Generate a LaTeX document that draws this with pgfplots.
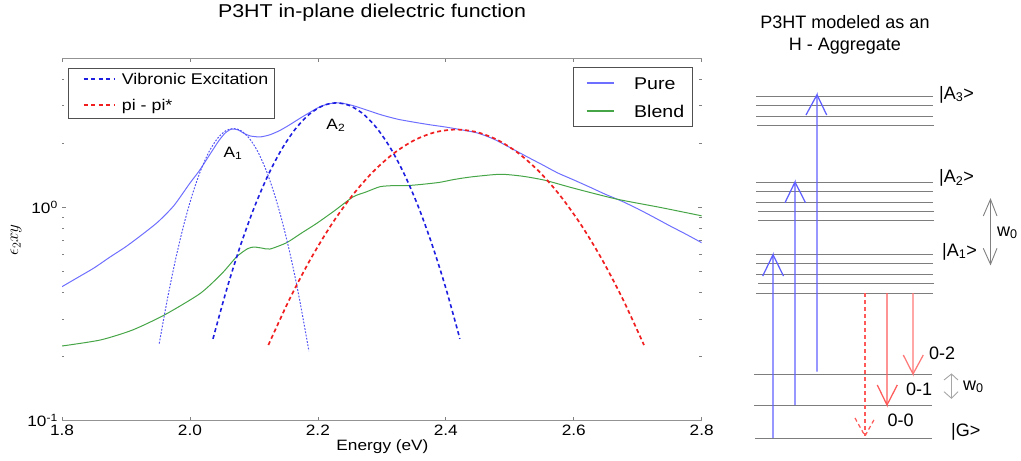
\documentclass[border=0pt]{standalone}
\usepackage{fontspec}
\setmainfont{Liberation Sans}
\newfontfamily\lsw[FakeStretch=1.15]{Liberation Sans}
\usepackage{pgfplots}
\pgfplotsset{compat=1.18}
\definecolor{pureblue}{RGB}{110,110,255}
\definecolor{blendgreen}{RGB}{70,165,70}
\definecolor{vibblue}{RGB}{30,30,225}
\definecolor{vibblueA}{RGB}{85,85,245}
\definecolor{pired}{RGB}{240,30,30}
\definecolor{lvlgray}{RGB}{125,125,125}
\definecolor{arrblue}{RGB}{95,95,255}
\definecolor{arrred}{RGB}{255,90,90}
\definecolor{arrredL}{RGB}{255,120,120}
\definecolor{framegray}{RGB}{80,80,80}
\newcommand{\fTick}{\lsw\fontsize{15bp}{18bp}\selectfont}
\newcommand{\fR}{\fontsize{18bp}{21bp}\selectfont}
\begin{document}
\begin{tikzpicture}
\path[use as bounding box] (0bp,0bp) rectangle (1021bp,-461bp);
% ---------------- main axis
\begin{axis}[at={(62bp,-420.7bp)}, anchor=south west,
  scale only axis, width=639.7bp, height=362.4bp,
  xmin=1.8, xmax=2.8, ymode=log, ymin=0.1, ymax=5,
  separate axis lines,
  x axis line style={draw=gray!85, line width=0.9bp},
  y axis line style={draw=none},
  xtick={1.8,2.0,2.2,2.4,2.6,2.8},
  xticklabels={1.8,2.0,2.2,2.4,2.6,2.8},
  ytick={0.1,1},
  yticklabels={10\textsuperscript{-1},10\textsuperscript{0}},
  minor ytick={0.2,0.3,0.4,0.5,0.6,0.7,0.8,0.9,2,3,4,5},
  major tick style={draw=gray, line width=0.7bp},
  minor tick style={draw=gray, line width=0.6bp},
  major tick length=4bp, minor tick length=2.5bp,
  tick label style={font=\fTick, text=black},
  xticklabel style={anchor=north, inner sep=0pt, yshift=-4.3bp},
  yticklabel style={anchor=east, inner sep=0pt, xshift=-4bp},
]
\addplot[draw=pureblue, color=pureblue, line width=1bp, smooth, tension=0.4] coordinates {
(1.800,0.425) (1.825,0.47) (1.850,0.52) (1.875,0.585) (1.900,0.655) (1.925,0.745)
(1.950,0.855) (1.975,1.02) (2.000,1.30) (2.015,1.49) (2.030,1.75) (2.045,2.05)
(2.055,2.23) (2.065,2.33) (2.075,2.31) (2.085,2.22) (2.095,2.16) (2.110,2.14)
(2.125,2.19) (2.140,2.29) (2.155,2.43) (2.175,2.65) (2.200,2.93) (2.215,3.05)
(2.228,3.09) (2.240,3.07) (2.255,3.00) (2.275,2.87) (2.300,2.71) (2.325,2.59)
(2.350,2.51) (2.375,2.44) (2.400,2.38) (2.425,2.31) (2.450,2.23) (2.475,2.09)
(2.500,1.91) (2.525,1.74) (2.550,1.59) (2.575,1.45) (2.600,1.345) (2.625,1.245)
(2.650,1.15) (2.675,1.07) (2.700,0.985) (2.725,0.90) (2.750,0.82) (2.775,0.75)
(2.800,0.683)};
\addplot[draw=blendgreen, color=blendgreen, line width=1bp, smooth, tension=0.4] coordinates {
(1.80,0.224) (1.86,0.239) (1.91,0.266) (1.96,0.313) (2.016,0.395) (2.05,0.49)
(2.073,0.587) (2.09,0.64) (2.10,0.652) (2.112,0.645) (2.125,0.638) (2.151,0.683)
(2.175,0.76) (2.198,0.841) (2.225,0.96) (2.255,1.12) (2.275,1.18) (2.297,1.25)
(2.318,1.265) (2.339,1.265) (2.36,1.28) (2.39,1.31) (2.412,1.35) (2.44,1.39)
(2.485,1.43) (2.52,1.40) (2.555,1.34) (2.60,1.23) (2.667,1.094) (2.735,1.00)
(2.80,0.913)};
\addplot[draw=vibblueA, color=vibblueA, line width=1bp, dash pattern=on 1.8bp off 1.5bp, smooth] coordinates {
(1.952,0.230) (1.965,0.375) (1.978,0.579) (1.991,0.842) (2.004,1.155) (2.017,1.496)
(2.030,1.827) (2.043,2.104) (2.056,2.287) (2.068,2.344) (2.080,2.287) (2.093,2.104)
(2.106,1.827) (2.119,1.496) (2.132,1.155) (2.145,0.842) (2.158,0.579) (2.171,0.375)
(2.186,0.212)};
\addplot[draw=vibblue, color=vibblue, line width=1.6bp, dash pattern=on 4bp off 3bp, smooth] coordinates {
(2.036,0.242) (2.0575,0.4135) (2.079,0.663) (2.1005,0.999) (2.122,1.4125) (2.1435,1.875)
(2.165,2.335) (2.1865,2.732) (2.208,2.999) (2.229,3.090) (2.250,2.999) (2.2715,2.732)
(2.293,2.335) (2.3145,1.875) (2.336,1.4125) (2.3575,0.999) (2.379,0.663) (2.4005,0.4135)
(2.422,0.242)};
\addplot[draw=pired, color=pired, line width=1.7bp, dash pattern=on 4bp off 3bp, smooth] coordinates {
(2.1226,0.2263) (2.1552,0.3687) (2.1878,0.5671) (2.2205,0.8243) (2.2531,1.130)
(2.2857,1.464) (2.3183,1.789) (2.3510,2.067) (2.3836,2.252) (2.4162,2.317)
(2.4488,2.252) (2.4814,2.067) (2.5141,1.789) (2.5467,1.464) (2.5793,1.130)
(2.6119,0.8243) (2.6446,0.5671) (2.6772,0.3687) (2.7098,0.2263)};
\node[font=\lsw\fontsize{15bp}{18bp}\selectfont] at (axis cs:2.0673,1.797) {A\textsubscript{1}};
\node[font=\lsw\fontsize{15bp}{18bp}\selectfont] at (axis cs:2.2281,2.43) {A\textsubscript{2}};
\end{axis}
% ---------------- pixel axis: titles, labels, legends and level diagram
\begin{axis}[at={(0bp,-461bp)}, anchor=south west, scale only axis,
  width=1021bp, height=461bp, xmin=0, xmax=1021, ymin=0, ymax=461,
  y dir=reverse, hide axis, clip=false,
  lvl/.style={draw=lvlgray, color=lvlgray, line width=1.1bp},
  ab/.style={draw=arrblue, color=arrblue, line width=1.25bp},
  ar/.style={draw=arrred, color=arrred, line width=1.25bp},
  aw/.style={draw=gray, color=gray, line width=0.9bp}]
\node[anchor=base, font=\lsw\fontsize{18.6bp}{21bp}\selectfont] at (axis cs:372,17.3) {P3HT in-plane dielectric function};
\node[anchor=base, font=\lsw\fontsize{15bp}{18bp}\selectfont] at (axis cs:382.5,450.5) {Energy (eV)};
\node[rotate=90, font=\fontsize{17bp}{20bp}\selectfont] at (axis cs:16,240) {$\epsilon_2 xy$};
\node[anchor=base, font=\fR] at (axis cs:845,28.3) {P3HT modeled as an};
\node[anchor=base, font=\fR] at (axis cs:845,50.3) {H - Aggregate};
% legend (left)
\addplot[draw=framegray, color=framegray, line width=1bp] coordinates {(68,68) (274,68) (274,118.5) (68,118.5) (68,68)};
\addplot[draw=vibblue, color=vibblue, line width=1.8bp, dash pattern=on 4bp off 3.5bp] coordinates {(83.5,79) (114,79)};
\addplot[draw=pired, color=pired, line width=1.8bp, dash pattern=on 4bp off 3.5bp] coordinates {(83.5,105) (114,105)};
\node[anchor=base west, inner sep=0pt, font=\lsw\fontsize{15.5bp}{18bp}\selectfont] at (axis cs:121.7,84.9) {Vibronic Excitation};
\node[anchor=base west, inner sep=0pt, font=\lsw\fontsize{15.5bp}{18bp}\selectfont] at (axis cs:121.7,110.6) {pi - pi*};
% legend (right)
\addplot[draw=framegray, color=framegray, line width=1bp] coordinates {(573.5,67) (692.5,67) (692.5,126) (573.5,126) (573.5,67)};
\addplot[draw=pureblue, color=pureblue, line width=1.8bp] coordinates {(586.7,83) (614.3,83)};
\addplot[draw=blendgreen, color=blendgreen, line width=1.8bp] coordinates {(586.7,111) (614.3,111)};
\node[anchor=base west, inner sep=0pt, font=\lsw\fontsize{17bp}{19bp}\selectfont] at (axis cs:634,89.4) {Pure};
\node[anchor=base west, inner sep=0pt, font=\lsw\fontsize{17bp}{19bp}\selectfont] at (axis cs:634,117.1) {Blend};
% levels A3
\addplot[lvl] coordinates {(756,96.5) (933,96.5)};
\addplot[lvl] coordinates {(756,105.5) (933,105.5)};
\addplot[lvl] coordinates {(756,116.5) (933,116.5)};
\addplot[lvl] coordinates {(757,125.5) (934,125.5)};
% levels A2
\addplot[lvl] coordinates {(756,182.5) (933,182.5)};
\addplot[lvl] coordinates {(756,191.5) (933,191.5)};
\addplot[lvl] coordinates {(756,202.5) (933,202.5)};
\addplot[lvl] coordinates {(758,211.5) (934,211.5)};
\addplot[lvl] coordinates {(758,220.5) (934,220.5)};
% levels A1
\addplot[lvl] coordinates {(756,254.5) (933,254.5)};
\addplot[lvl] coordinates {(756,263.5) (933,263.5)};
\addplot[lvl] coordinates {(756,274.5) (933,274.5)};
\addplot[lvl] coordinates {(758,283.5) (934,283.5)};
\addplot[lvl] coordinates {(756,293.5) (933,293.5)};
% ground levels
\addplot[lvl] coordinates {(754,374.5) (932,374.5)};
\addplot[lvl] coordinates {(754,405.5) (932,405.5)};
\addplot[lvl] coordinates {(755,438.5) (932,438.5)};
% blue absorption arrows
\addplot[ab] coordinates {(773,438) (773,254.7) (762.7,276)};
\addplot[ab] coordinates {(773,254.7) (783.5,276)};
\addplot[ab] coordinates {(795,405) (795,182) (785,202.7)};
\addplot[ab] coordinates {(795,182) (805.5,202.7)};
\addplot[ab] coordinates {(817,371.7) (817,94.7) (806,115)};
\addplot[ab] coordinates {(817,94.7) (826.7,115)};
% red emission arrows
\addplot[ar, dash pattern=on 4bp off 3bp] coordinates {(865,293) (865,436)};
\addplot[ar, dash pattern=on 4bp off 3bp] coordinates {(855,418) (865,436) (875,418)};
\addplot[ar] coordinates {(887,293) (887,405) (877.3,385)};
\addplot[ar] coordinates {(887,405) (897.3,385)};
\addplot[ar, draw=arrredL, color=arrredL] coordinates {(913,293) (913,374) (903.3,355)};
\addplot[ar, draw=arrredL, color=arrredL] coordinates {(913,374) (923.3,355)};
% w0 arrows
\addplot[aw] coordinates {(990.5,199.3) (990.5,264.3)};
\addplot[aw] coordinates {(983.3,216) (990.5,199.3) (997,216)};
\addplot[aw] coordinates {(983.3,248.3) (990.5,264.3) (997,248.3)};
\addplot[aw, draw=gray!70, color=gray!70] coordinates {(951.5,374) (951.5,398.3)};
\addplot[aw, draw=gray!70, color=gray!70] coordinates {(944,380) (951.5,374) (958,380)};
\addplot[aw, draw=gray!70, color=gray!70] coordinates {(944,391.7) (951.5,398.3) (958,391.7)};
% labels
\node[anchor=base west, inner sep=0pt, font=\fR] at (axis cs:939,99) {|A\textsubscript{3}>};
\node[anchor=base west, inner sep=0pt, font=\fR] at (axis cs:939,182.7) {|A\textsubscript{2}>};
\node[anchor=base west, inner sep=0pt, font=\fR] at (axis cs:942,256) {|A\textsubscript{1}>};
\node[anchor=base west, inner sep=0pt, font=\fR] at (axis cs:997,236) {w\textsubscript{0}};
\node[anchor=base west, inner sep=0pt, font=\fR] at (axis cs:929,359.3) {0-2};
\node[anchor=base west, inner sep=0pt, font=\fR] at (axis cs:906,395.7) {0-1};
\node[anchor=base west, inner sep=0pt, font=\fR] at (axis cs:887.5,426.7) {0-0};
\node[anchor=base west, inner sep=0pt, font=\fR] at (axis cs:963,390) {w\textsubscript{0}};
\node[anchor=base west, inner sep=0pt, font=\fR] at (axis cs:951,436.7) {|G>};
\end{axis}
\end{tikzpicture}
\end{document}
